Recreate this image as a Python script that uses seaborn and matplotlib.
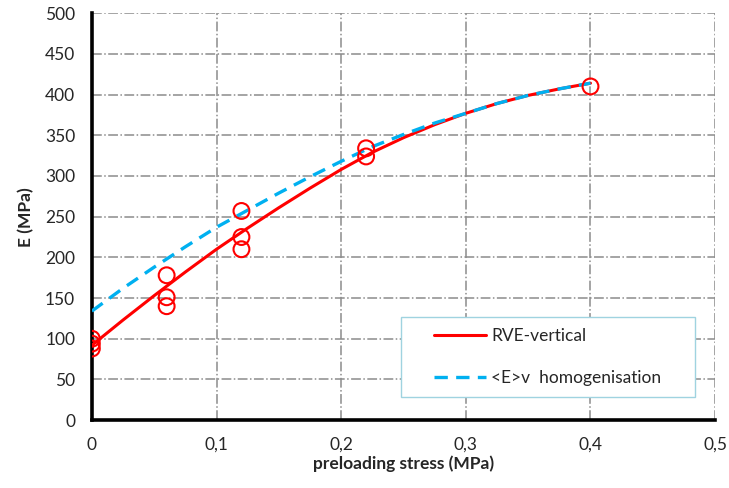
import pandas as pd
import matplotlib
matplotlib.use('Agg')
import matplotlib.pyplot as plt
from matplotlib.patches import Rectangle
import seaborn as sns

# measured points (circles)
stress_pts = [0, 0, 0, 0.06, 0.06, 0.06, 0.12, 0.12, 0.12, 0.22, 0.22, 0.4]
E_pts = [100, 94, 88, 178, 151, 140, 257, 225, 210, 334, 324, 410]

# curves
stress_curve = [0, 0.025, 0.05, 0.075, 0.1, 0.125, 0.15, 0.175, 0.2,
                0.225, 0.25, 0.275, 0.3, 0.325, 0.35, 0.375, 0.4]
E_rve = [92, 123, 153, 182, 210, 236, 261, 285, 308,
         329, 347, 363, 377, 389, 399, 407, 414]
E_homog = [134, 162, 188, 213, 237, 258, 279, 299, 318,
           336, 351, 365, 377, 389, 399, 407, 414]

x_ticks = [0, 0.1, 0.2, 0.3, 0.4, 0.5]
x_ticklabels = ['0', '0,1', '0,2', '0,3', '0,4', '0,5']
y_ticks = [0, 50, 100, 150, 200, 250, 300, 350, 400, 450, 500]

sns.set_style('white')
plt.rcParams['font.family'] = ['Lato', 'DejaVu Sans']

df_pts = pd.DataFrame({'stress': stress_pts, 'E': E_pts})
df_curve = pd.DataFrame({'stress': stress_curve, 'rve': E_rve, 'homog': E_homog})

fig = plt.figure(figsize=(7.29, 4.88), dpi=100)
ax = fig.add_axes([0.126, 0.139, 0.855, 0.834])

sns.lineplot(x='stress', y='rve', data=df_curve, ax=ax, color='#ff0000',
             linewidth=2.2, label='RVE-vertical', zorder=3)
sns.lineplot(x='stress', y='homog', data=df_curve, ax=ax, color='#00b0f0',
             linewidth=2.4, label='<E>v  homogenisation', zorder=4)
ax.lines[1].set_dashes([4, 2.5])
sns.scatterplot(x='stress', y='E', data=df_pts, ax=ax, marker='o', s=130,
                facecolor='none', edgecolor='#ff0000', linewidth=1.5, zorder=5)

ax.set_xlim(0, 0.5)
ax.set_ylim(0, 500)
ax.set_xticks(x_ticks)
ax.set_xticklabels(x_ticklabels)
ax.set_yticks(y_ticks)
ax.grid(True, color='#8c8c8c', linestyle='-.', linewidth=1.1)
ax.set_axisbelow(True)

for s in ['top', 'right']:
    ax.spines[s].set_visible(False)
for s in ['left', 'bottom']:
    ax.spines[s].set_linewidth(2.6)
    ax.spines[s].set_color('black')
ax.tick_params(axis='both', which='major', labelsize=12.5, width=2.6, length=4,
               color='black', direction='out', pad=8)

ax.set_xlabel('preloading stress (MPa)', fontsize=12.5, fontweight='bold', labelpad=2)
ax.set_ylabel('E (MPa)', fontsize=12.5, fontweight='bold', labelpad=8)

# legend box like the spreadsheet one
ax.add_patch(Rectangle((0.496, 0.056), 0.472, 0.197, transform=ax.transAxes,
                       facecolor='white', edgecolor='#9fd3e0', linewidth=1.0,
                       zorder=6))
leg = ax.legend(loc='upper left', bbox_to_anchor=(0.549, 0.226),
                frameon=False, fontsize=12.5, handlelength=3.0,
                labelspacing=1.5, borderpad=0, handletextpad=0.3,
                borderaxespad=0)
leg.set_zorder(7)

fig.savefig('out.png', dpi=100)
